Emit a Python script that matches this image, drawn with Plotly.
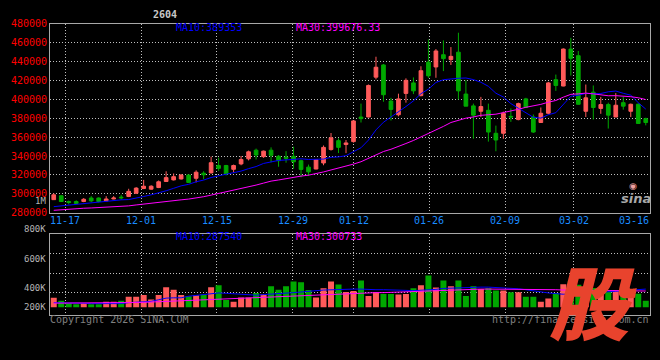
import plotly.graph_objects as go

# ---------------- data ----------------
dates = ["11-13", "11-14",
         "11-17", "11-18", "11-19", "11-20", "11-21", "11-24", "11-25", "11-26", "11-27", "11-28",
         "12-01", "12-02", "12-03", "12-04", "12-05", "12-08", "12-09", "12-10", "12-11", "12-12",
         "12-15", "12-16", "12-17", "12-18", "12-19", "12-22", "12-23", "12-24", "12-25", "12-26",
         "12-29", "12-30", "12-31", "01-05", "01-06", "01-07", "01-08", "01-09",
         "01-12", "01-13", "01-14", "01-15", "01-16", "01-19", "01-20", "01-21", "01-22", "01-23",
         "01-26", "01-27", "01-28", "01-29", "01-30", "02-02", "02-03", "02-04", "02-05", "02-06",
         "02-09", "02-10", "02-11", "02-12", "02-13", "02-24", "02-25", "02-26", "02-27",
         "03-02", "03-03", "03-04", "03-05", "03-06", "03-09", "03-10", "03-11", "03-12", "03-13",
         "03-16"]

opens = [293900, 298000, 291900, 291900, 291900, 295600, 295600, 292600, 294600, 296600,
         297300, 300700, 305700, 305000, 306700, 313100, 314800, 315800, 319900, 316500,
         321900, 322200, 330000, 330000, 326000, 331700, 337100, 346200, 339400, 346200,
         339800, 338800, 339800, 335100, 328300, 326300, 332700, 346900, 356300, 352200,
         355300, 381300, 381300, 423500, 436400, 398200, 383700, 406300, 417400, 403900,
         439400, 434300, 447200, 442100, 449900, 405600, 393100, 387400, 388400, 364100,
         364100, 382000, 378600, 400500, 381300, 375500, 385300, 420800, 414100, 453200,
         446200, 387400, 407600, 390400, 394500, 381300, 396500, 387400, 394800, 379600]
highs = [300700, 298600, 292900, 293200, 295600, 297600, 296300, 297600, 297600, 299000,
         305400, 307100, 314800, 309100, 314200, 323900, 321600, 320900, 320600, 324900,
         323900, 339400, 338400, 330700, 331000, 340100, 345800, 347900, 345800, 349200,
         341100, 345200, 349900, 336400, 331000, 336400, 351200, 364400, 358700, 357000,
         377900, 395500, 415700, 445100, 437400, 401600, 406000, 422200, 423200, 435000,
         463400, 453200, 462400, 455300, 470500, 420100, 395500, 402600, 395500, 372200,
         387000, 390400, 396500, 401600, 384000, 391400, 418500, 426200, 453900, 465100,
         451200, 415700, 414700, 402600, 396500, 406600, 402600, 395500, 395800, 380600]
lows = [293500, 291500, 288900, 289200, 291200, 291200, 290900, 291900, 294300, 293900,
        296600, 300000, 305000, 304400, 306100, 312800, 314200, 315200, 311500, 312100,
        315500, 321600, 324300, 319500, 322600, 330300, 335400, 336400, 338100, 333400,
        328700, 333000, 326600, 317500, 318900, 326000, 330300, 345800, 343200, 343100,
        354300, 375500, 381000, 421200, 397500, 377600, 382000, 396500, 405600, 403300,
        422800, 422800, 429900, 436400, 399900, 392800, 358300, 381300, 355300, 345100,
        358300, 376200, 377900, 390800, 364400, 375500, 384000, 409000, 413800, 425200,
        394500, 381300, 378600, 384700, 369100, 381300, 389100, 381300, 374500, 372500]
closes = [299000, 291900, 290900, 289900, 294300, 292600, 291900, 294600, 295600, 295900,
          302700, 306100, 308100, 308100, 312800, 317200, 318200, 319900, 312100, 322900,
          320200, 333000, 327000, 321200, 330000, 336400, 344500, 341100, 345200, 340800,
          335100, 337700, 334000, 325900, 323300, 336100, 349200, 359300, 349200, 353900,
          377200, 379600, 414700, 434000, 404900, 389400, 400500, 420100, 409000, 430300,
          424900, 451200, 443100, 445500, 409000, 392800, 383300, 392400, 365400, 357000,
          385300, 381300, 395500, 391400, 365400, 385300, 417400, 414700, 453200, 443400,
          394800, 401600, 391400, 394500, 383300, 393800, 392800, 394800, 374500, 375500]

ma10 = [286500, 287300, 288000, 288800, 289700, 290600, 291500, 292400, 293100, 293700,
        294000, 295400, 297200, 299000, 300800, 303300, 305900, 308500, 310100, 312800,
        314600, 317300, 319100, 320500, 322200, 324100, 326700, 328900, 332200, 333900,
        335400, 335900, 336600, 337100, 336400, 336400, 336800, 338700, 339100, 340400,
        344600, 348800, 356900, 367700, 375800, 381200, 386300, 392400, 398400, 406000,
        410800, 417900, 420800, 421900, 422300, 422600, 420900, 418100, 413800, 406500,
        402500, 395500, 390800, 385300, 381000, 380200, 383700, 385900, 394700, 403300,
        404300, 406300, 405900, 406200, 408000, 408800, 406400, 404400, 396500, 389700]
ma30 = [282600, 283300, 283800, 284300, 284800, 285100, 285400, 285800, 286100, 286600,
        287300, 288300, 289300, 290200, 291000, 291700, 292700, 293700, 294500, 295500,
        297000, 298700, 300400, 302200, 303700, 305700, 307500, 309300, 311400, 313500,
        314700, 316200, 317600, 318800, 319800, 321300, 323200, 325300, 327100, 329000,
        331500, 334000, 337500, 341700, 344800, 347200, 350000, 353300, 356500, 360100,
        363600, 367500, 371400, 375500, 378200, 380100, 381400, 383100, 383700, 384300,
        386000, 387400, 389500, 391600, 393000, 394700, 397000, 398800, 402300, 405300,
        405800, 406600, 405800, 404500, 403800, 403900, 403600, 402800, 401700, 399800]

volumes = [196000, 135000, 81000, 61000, 81000, 61000, 61000, 115000, 115000, 135000,
           217000, 217000, 257000, 162000, 257000, 420000, 365000, 257000, 230000, 250000,
           264000, 420000, 460000, 149000, 115000, 203000, 203000, 298000, 271000, 440000,
           365000, 440000, 541000, 521000, 359000, 203000, 399000, 541000, 474000, 318000,
           338000, 562000, 237000, 318000, 277000, 277000, 264000, 277000, 399000, 460000,
           663000, 413000, 562000, 440000, 562000, 237000, 440000, 379000, 399000, 352000,
           352000, 311000, 311000, 217000, 217000, 115000, 183000, 300000, 480000, 555000,
           470000, 380000, 400000, 280000, 330000, 350000, 300000, 280000, 284000, 135000]
vol_ma10 = [95400, 95400, 88700, 81900, 81900, 75100, 75100, 75100, 75100, 75100,
            95400, 102200, 122500, 122500, 156300, 190200, 197000, 197000, 230800, 244300,
            264600, 284900, 298500, 291700, 278200, 264600, 251100, 251100, 264600, 271400,
            284900, 291700, 305200, 318800, 325500, 345800, 359400, 366100, 379700, 379700,
            379700, 379700, 366100, 366100, 366100, 366100, 352600, 352600, 345800, 352600,
            366100, 372900, 393200, 400000, 413500, 420300, 420300, 420300, 420300, 413500,
            400000, 393200, 386500, 366100, 339100, 312000, 298500, 284900, 271400, 278200,
            284900, 298500, 305200, 312000, 318800, 332300, 345800, 359400, 372900, 379700]
vol_ma30 = [85300, 85300, 85300, 85300, 88700, 88700, 88700, 92000, 92000, 95400,
            95400, 98800, 102200, 109000, 115700, 122500, 129300, 136000, 142800, 149600,
            156300, 163100, 169900, 173300, 176600, 183400, 190200, 197000, 203700, 210500,
            217300, 224000, 230800, 237600, 244300, 251100, 257900, 264600, 278200, 284900,
            291700, 298500, 305200, 305200, 305200, 312000, 312000, 318800, 325500, 332300,
            339100, 345800, 359400, 366200, 372900, 372900, 379700, 379700, 379700, 379700,
            379700, 379700, 379700, 379700, 379700, 379700, 372900, 366200, 359400, 352600,
            352600, 352600, 352600, 352600, 352600, 352600, 352600, 345800, 345800, 339100]

price_ticks = [280000, 300000, 320000, 340000, 360000, 380000, 400000, 420000, 440000, 460000, 480000]
date_labels = ["11-17", "12-01", "12-15", "12-29", "01-12", "01-26", "02-09", "03-02", "03-16"]
vol_labels = ["1M", "800K", "600K", "400K", "200K"]
title_text = "2604"
legend_price = ["MA10:389353", "MA30:399676.33"]
legend_vol = ["MA10:287540", "MA30:300733"]

# ---------------- styling / layout helpers ----------------
W, H = 660, 360
RED, GREEN = "#ff5a5a", "#00a800"
BLUE, MAG = "#0000ff", "#ff00ff"
MONO = "DejaVu Sans Mono"
GRID = "#c0c0c0"
BORDER = "#a8a8a8"


def fx(p):
    return p / W


def fy(p):
    return 1 - p / H


def vol_at(p):  # pixel row -> volume value on the volume axis
    return (310.7 - p) * 20305


n = len(dates)
xs = list(range(n))
bar_colors = [RED if c >= o else GREEN for o, c in zip(opens, closes)]
label_slots = [dates.index(d) for d in date_labels]
grid_x = [s * n / (n - 1) - 0.5 for s in label_slots]

fig = go.Figure()
fig.add_trace(go.Candlestick(
    x=xs, open=opens, high=highs, low=lows, close=closes,
    increasing=dict(line=dict(color=RED, width=1), fillcolor=RED),
    decreasing=dict(line=dict(color=GREEN, width=1), fillcolor=GREEN),
    whiskerwidth=0, xaxis="x", yaxis="y", showlegend=False, hoverinfo="skip"))
fig.add_trace(go.Scatter(x=xs, y=ma10, mode="lines", line=dict(color=BLUE, width=1),
                         xaxis="x", yaxis="y", showlegend=False, hoverinfo="skip"))
fig.add_trace(go.Scatter(x=xs, y=ma30, mode="lines", line=dict(color=MAG, width=1),
                         xaxis="x", yaxis="y", showlegend=False, hoverinfo="skip"))
fig.add_trace(go.Bar(x=xs, y=volumes, marker=dict(color=bar_colors, line=dict(width=0)),
                     width=0.8, xaxis="x2", yaxis="y2", showlegend=False, hoverinfo="skip"))
fig.add_trace(go.Scatter(x=xs, y=vol_ma10, mode="lines", line=dict(color=BLUE, width=1),
                         xaxis="x2", yaxis="y2", showlegend=False, hoverinfo="skip"))
fig.add_trace(go.Scatter(x=xs, y=vol_ma30, mode="lines", line=dict(color=MAG, width=1),
                         xaxis="x2", yaxis="y2", showlegend=False, hoverinfo="skip"))

axis_common = dict(showgrid=True, gridcolor=GRID, griddash="1px,2px", gridwidth=1,
                   showline=True, mirror=True, linecolor=BORDER, linewidth=1,
                   zeroline=False, fixedrange=True, ticks="")

fig.update_layout(
    width=W, height=H, margin=dict(l=0, r=0, t=0, b=0),
    paper_bgcolor="black", plot_bgcolor="black",
    boxgap=0.3, bargap=0.2,
    xaxis=dict(domain=[fx(50), fx(649.5)], range=[-0.5, n - 0.5], tickvals=grid_x,
               showticklabels=False, rangeslider=dict(visible=False), anchor="y", **axis_common),
    yaxis=dict(domain=[fy(213.3), fy(18.3)], range=[price_ticks[0], price_ticks[-1]],
               tickvals=price_ticks, ticktext=[str(v) for v in price_ticks],
               tickfont=dict(family=MONO, size=10, color="#ff0000"), anchor="x", **axis_common),
    xaxis2=dict(domain=[fx(50), fx(649.5)], range=[-0.5, n - 0.5], tickvals=grid_x, matches="x",
                showticklabels=False, anchor="y2", **axis_common),
    yaxis2=dict(domain=[fy(318.3), fy(234.7)], range=[vol_at(318.3), vol_at(234.7)],
                tickvals=[vol_at(255.7), vol_at(275.7), vol_at(295.7)], showticklabels=False,
                anchor="x2", **axis_common),
)

ann = []


def add_text(text, x, y, xanchor="center", font=None, xref="paper"):
    ann.append(dict(text=text, x=x, y=y, xref=xref, yref="paper", xanchor=xanchor,
                    yanchor="middle", showarrow=False, borderpad=0, font=font))


# title
add_text(title_text, fx(165), fy(9), font=dict(family=MONO, size=10, color="#c8c8c8", weight="bold"))
# legends
for txt, col, xp in [(legend_price[0], BLUE, 175), (legend_price[1], MAG, 295)]:
    add_text(txt, fx(xp), fy(22.5), "left", dict(family=MONO, size=10, color=col))
for txt, col, xp in [(legend_vol[0], BLUE, 175), (legend_vol[1], MAG, 295)]:
    add_text(txt, fx(xp), fy(238), "left", dict(family=MONO, size=10, color=col))
# date labels
for i, (lab, gx) in enumerate(zip(date_labels, grid_x)):
    last = i == len(date_labels) - 1
    add_text(lab, (n - 0.5) if last else gx, fy(221.7), "right" if last else "center",
             dict(family=MONO, size=10, color="#1a8cff"), xref="x")
# volume axis labels
for lab, yp in zip(vol_labels, [201.0, 230.5, 260.5, 291.0, 310.7]):
    add_text(lab, fx(47), fy(yp), "right", dict(family=MONO, size=9, color="#b4b4b4"))
# footer
add_text("Copyright 2026 SINA.COM", fx(49), fy(323.5), "left", dict(family=MONO, size=10, color="#808080"))
add_text("http://finance.sina.com.cn", fx(650), fy(323.5), "right", dict(family=MONO, size=10, color="#808080"))
# sina logo
add_text("◉", fx(633), fy(186), font=dict(family="DejaVu Sans", size=9, color="#f0a0a0"))
add_text("sina", fx(636), fy(198.5),
         font=dict(family="DejaVu Sans", size=13, color="#a8a8a8", weight="bold", style="italic"))
# big stock logo
add_text("股", fx(593), fy(302),
         font=dict(family="Noto Sans CJK SC", size=80, color="#e8432d", weight=900, style="italic"))

fig.update_layout(annotations=ann)
fig.write_html("out.html", config={"displayModeBar": False},
               post_script="document.body.style.margin='0';document.body.style.overflow='hidden';")
